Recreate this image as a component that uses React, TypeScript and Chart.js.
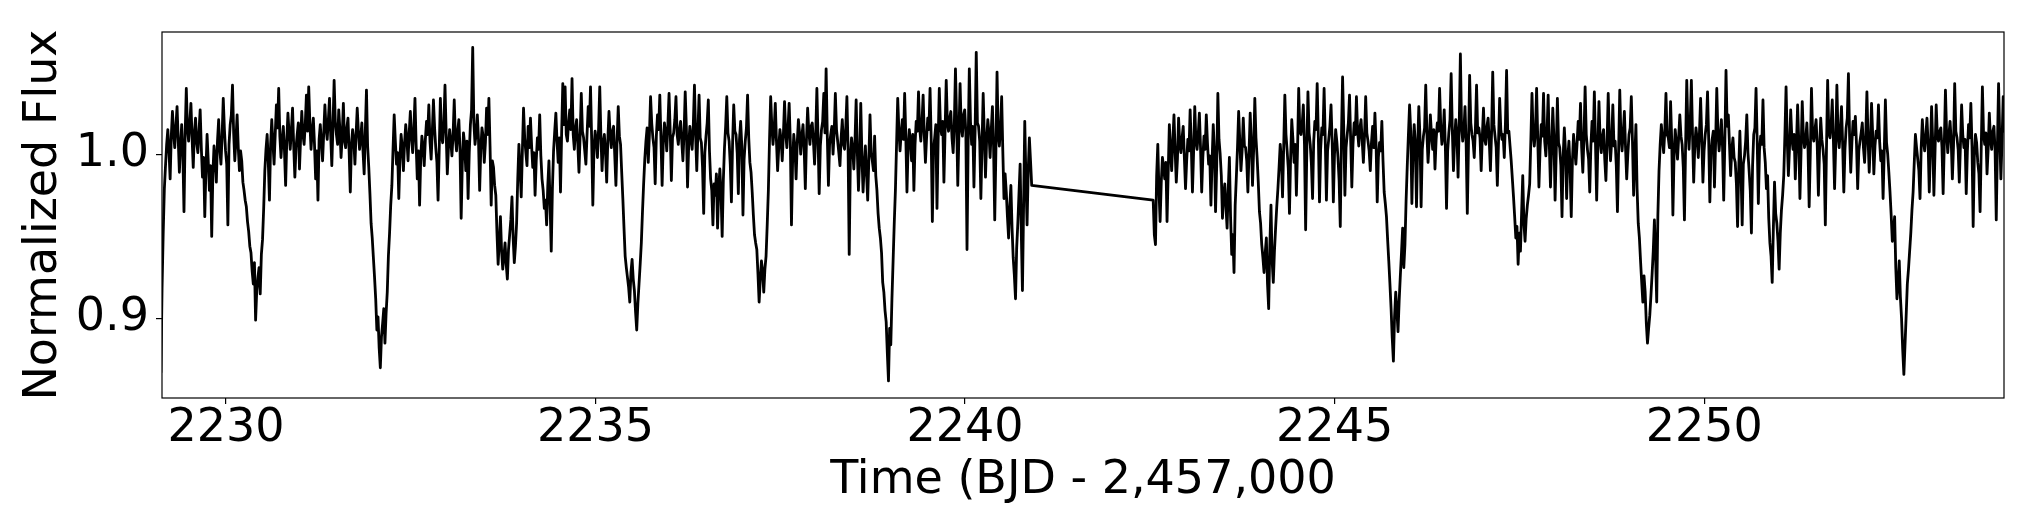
import React, { useEffect, useRef } from "react";
import { Chart, registerables } from "chart.js";

Chart.register(...registerables);

// Time grid: regular cadence per observing segment (BJD - 2,457,000)
const segment1Start = 2229.12;
const segment2Start = 2242.545;
const cadenceDays = 1 / 64;

// Normalized flux, segment 1 (before the data gap)
const segment1Flux = [
  0.867, 0.918, 0.952, 0.979, 0.993, 1.006, 1.015, 1.002, 0.985, 1.011, 1.026, 1.013, 1.004, 1.017, 1.029, 1.009, 0.989, 1.005, 1.018, 1.001, 0.965, 1.012, 1.040, 1.016, 1.008, 1.019, 1.031, 1.010, 0.992, 1.013, 1.022, 1.007,
  1.001, 1.014, 1.027, 1.004, 0.986, 0.998, 0.962, 0.991, 1.012, 0.996, 0.978, 0.993, 0.950, 0.988, 1.005, 0.997, 0.983, 1.008, 1.021, 1.003, 0.994, 1.011, 1.034, 1.015, 1.002, 0.994, 0.957, 1.006, 1.018, 1.024, 1.042, 1.013,
  0.996, 1.009, 1.024, 1.004, 0.990, 1.002, 0.996, 0.983, 0.978, 0.972, 0.968, 0.959, 0.953, 0.944, 0.940, 0.929, 0.921, 0.934, 0.899, 0.917, 0.925, 0.931, 0.915, 0.939, 0.948, 0.967, 0.990, 1.003, 1.012, 0.995, 0.972, 1.006,
  1.021, 1.007, 0.994, 1.012, 1.030, 1.016, 1.040, 1.011, 0.998, 1.009, 1.017, 1.002, 0.981, 1.008, 1.025, 1.013, 1.003, 1.015, 1.028, 1.005, 0.986, 1.004, 1.012, 1.019, 0.991, 1.010, 1.026, 1.012, 1.006, 1.018, 1.036, 1.014,
  1.041, 1.019, 1.003, 1.014, 1.022, 1.006, 0.985, 1.002, 0.972, 1.009, 1.018, 1.007, 0.996, 1.013, 1.030, 1.016, 1.009, 1.021, 1.034, 1.012, 0.993, 1.017, 1.045, 1.020, 1.012, 1.006, 1.027, 1.015, 0.998, 1.011, 1.031, 1.008,
  1.004, 1.016, 1.022, 1.001, 0.977, 1.006, 1.015, 1.009, 0.994, 1.012, 1.028, 1.014, 1.003, 1.010, 1.019, 1.002, 0.988, 1.014, 1.039, 1.005, 0.992, 0.976, 0.958, 0.949, 0.937, 0.925, 0.912, 0.893, 0.901, 0.882, 0.870, 0.889,
  0.897, 0.906, 0.885, 0.903, 0.916, 0.938, 0.952, 0.969, 0.981, 1.003, 1.024, 1.008, 0.994, 1.001, 0.973, 0.998, 1.012, 1.004, 0.990, 1.007, 1.018, 1.009, 0.996, 1.013, 1.026, 1.010, 1.001, 1.015, 1.034, 1.006, 0.985, 1.002,
  0.969, 0.998, 1.011, 1.004, 0.993, 1.009, 1.020, 1.012, 1.030, 1.008, 0.997, 1.014, 1.033, 1.016, 1.004, 0.995, 0.972, 1.003, 1.034, 1.011, 1.007, 1.018, 1.042, 1.013, 0.988, 1.004, 1.015, 1.008, 0.999, 1.012, 1.033, 1.010,
  1.002, 1.014, 1.021, 1.003, 0.961, 0.994, 1.013, 1.006, 0.990, 1.008, 0.973, 1.001, 1.018, 1.027, 1.065, 1.019, 1.006, 1.013, 1.024, 1.009, 0.978, 1.003, 1.016, 1.011, 0.995, 1.007, 1.028, 1.012, 1.034, 1.005, 0.969, 0.996,
  0.992, 0.981, 0.975, 0.952, 0.933, 0.947, 0.962, 0.941, 0.930, 0.938, 0.946, 0.933, 0.924, 0.942, 0.951, 0.960, 0.974, 0.949, 0.934, 0.944, 0.958, 0.985, 1.006, 0.991, 0.974, 1.002, 1.028, 1.010, 1.001, 0.993, 1.017, 1.004,
  1.022, 1.005, 0.992, 1.001, 0.975, 0.996, 1.010, 1.003, 1.024, 0.999, 0.985, 0.978, 0.967, 0.972, 0.957, 0.981, 0.996, 0.969, 0.941, 0.979, 1.002, 1.014, 1.025, 1.008, 0.995, 1.010, 0.977, 1.013, 1.043, 1.018, 1.041, 1.012,
  1.008, 1.019, 1.027, 1.015, 1.046, 1.012, 1.003, 1.016, 1.021, 1.006, 0.989, 1.011, 1.037, 1.014, 1.010, 1.002, 0.994, 1.012, 1.029, 1.017, 1.041, 1.009, 0.969, 1.004, 1.014, 1.008, 0.998, 1.016, 1.041, 1.011, 0.990, 1.007,
  1.012, 1.001, 0.983, 1.009, 1.026, 1.012, 1.004, 1.014, 1.017, 0.999, 0.981, 1.008, 1.029, 1.011, 1.006, 0.989, 0.973, 0.955, 0.938, 0.931, 0.925, 0.919, 0.910, 0.928, 0.936, 0.924, 0.917, 0.904, 0.893, 0.909, 0.921, 0.933,
  0.946, 0.965, 0.982, 0.997, 1.008, 1.016, 0.995, 1.012, 1.035, 1.019, 1.010, 1.004, 0.982, 1.011, 1.024, 1.015, 1.036, 1.009, 0.981, 1.007, 1.019, 1.013, 1.002, 1.018, 1.037, 1.014, 0.984, 1.010, 1.013, 1.021, 1.035, 1.012,
  1.006, 1.015, 1.020, 1.008, 0.996, 1.013, 1.038, 1.016, 0.980, 1.005, 1.017, 1.009, 1.003, 1.018, 1.042, 1.012, 0.990, 1.014, 1.036, 1.010, 1.007, 0.992, 0.964, 1.001, 1.011, 1.019, 1.033, 1.002, 0.985, 0.978, 0.957, 0.982,
  0.975, 0.988, 0.955, 0.979, 0.991, 0.976, 0.950, 0.984, 1.004, 1.017, 1.035, 1.013, 1.008, 0.994, 0.971, 1.006, 1.030, 1.014, 1.012, 1.001, 0.976, 1.009, 1.020, 1.005, 0.963, 0.997, 1.008, 1.016, 1.036, 1.010, 0.995, 0.989,
  0.977, 0.963, 0.951, 0.946, 0.942, 0.927, 0.910, 0.924, 0.935, 0.929, 0.916, 0.930, 0.938, 0.957, 0.978, 1.009, 1.035, 1.017, 1.006, 1.015, 1.031, 1.008, 0.990, 1.004, 1.015, 1.009, 0.996, 1.012, 1.032, 1.013, 1.004, 1.016,
  1.031, 1.008, 0.957, 0.996, 1.012, 1.004, 0.985, 1.007, 1.021, 1.013, 1.000, 1.011, 1.018, 1.003, 0.979, 1.009, 1.028, 1.014, 1.006, 1.017, 1.019, 1.008, 0.994, 1.012, 1.040, 1.010, 0.976, 1.005, 1.015, 1.020, 1.037, 1.013,
  1.052, 1.012, 0.981, 1.006, 1.012, 1.017, 1.000, 1.014, 1.037, 1.015, 1.008, 1.001, 0.993, 1.010, 1.021, 1.006, 1.003, 1.016, 1.035, 1.004, 0.939, 0.997, 1.010, 1.003, 0.991, 1.008, 1.033, 1.002, 0.978, 0.996, 1.031, 0.999,
  0.977, 0.993, 1.005, 0.988, 0.972, 0.997, 1.024, 1.001, 0.996, 0.990, 1.011, 0.987, 0.978, 0.964, 0.955, 0.949, 0.940, 0.922, 0.916, 0.905, 0.898, 0.879, 0.862, 0.894, 0.884, 0.912, 0.935, 0.958, 0.978, 1.006, 1.034, 1.015,
  1.002, 1.013, 1.021, 1.009, 1.037, 1.011, 0.977, 1.004, 1.015, 1.008, 0.996, 1.012, 0.978, 1.006, 1.020, 1.014, 1.038, 1.016, 1.008, 1.019, 1.036, 1.012, 0.995, 1.010, 1.022, 1.015, 1.040, 1.009, 0.959, 1.003, 1.010, 1.018,
  0.967, 1.008, 1.040, 1.017, 1.012, 1.020, 0.983, 1.014, 1.045, 1.019, 1.014, 1.022, 1.026, 1.010, 1.001, 1.018, 1.052, 1.021, 0.981, 1.012, 1.043, 1.016, 1.011, 1.024, 1.027, 1.013, 0.942, 1.007, 1.052, 1.020, 1.006, 1.017,
  0.980, 1.014, 1.062, 1.019, 1.017, 1.008, 0.973, 1.006, 1.037, 1.011, 0.986, 1.009, 1.021, 1.013, 0.998, 1.015, 1.029, 1.004, 0.960, 1.001, 1.050, 1.012, 1.005, 1.016, 1.035, 1.002, 0.973, 0.988, 0.977, 0.962, 0.949, 0.968,
  0.981, 0.955, 0.937, 0.926, 0.912, 0.943, 0.958, 0.976, 0.994, 0.952, 0.917, 0.969, 1.020, 0.985, 0.957, 0.990, 1.010, 0.996, 0.981,
];

// Normalized flux, segment 2 (after the data gap)
const segment2Flux = [
  0.972, 0.951, 0.945, 0.987, 1.006, 0.978, 0.959, 0.983, 0.998, 0.992, 0.985, 0.995, 0.959, 0.989, 1.018, 1.003, 0.990, 1.008, 1.024, 1.002, 0.983, 0.997, 1.022, 1.006, 1.001, 1.010, 1.017, 0.998, 0.979, 0.996, 1.009, 1.002,
  1.027, 1.005, 0.977, 1.001, 1.029, 1.008, 1.003, 1.012, 1.025, 1.004, 0.977, 0.998, 1.011, 1.003, 1.024, 1.007, 0.994, 0.999, 0.969, 0.996, 1.018, 1.002, 0.965, 0.993, 1.037, 1.009, 1.000, 0.987, 0.961, 0.975, 0.982, 0.968,
  0.955, 0.979, 0.998, 0.962, 0.939, 0.951, 0.928, 0.969, 0.986, 1.004, 1.026, 1.008, 0.990, 1.002, 1.022, 1.005, 1.004, 0.996, 0.977, 1.001, 1.025, 1.007, 0.981, 1.003, 1.034, 1.010, 0.998, 0.983, 0.965, 0.958, 0.945, 0.937,
  0.928, 0.940, 0.949, 0.921, 0.906, 0.944, 0.969, 0.935, 0.922, 0.941, 0.955, 0.968, 0.979, 0.992, 1.006, 0.997, 0.974, 1.004, 1.036, 1.012, 1.002, 0.991, 0.964, 0.998, 1.021, 1.009, 0.995, 1.006, 0.975, 1.003, 1.040, 1.014,
  1.012, 1.018, 1.030, 1.006, 0.954, 1.001, 1.038, 1.013, 1.006, 0.994, 0.973, 1.008, 1.020, 1.015, 1.043, 1.011, 0.971, 1.003, 1.016, 1.012, 1.040, 1.009, 0.972, 1.002, 1.009, 1.017, 1.030, 1.007, 0.971, 1.000, 1.015, 1.008,
  0.998, 0.984, 0.956, 1.010, 1.047, 1.016, 0.975, 1.004, 1.012, 1.019, 1.036, 1.009, 0.980, 1.006, 1.019, 1.012, 1.035, 1.014, 1.005, 1.016, 1.021, 1.008, 0.995, 1.011, 1.035, 1.013, 1.008, 1.002, 0.990, 1.007, 1.017, 1.004,
  1.025, 1.006, 0.971, 0.998, 1.007, 1.002, 1.020, 0.996, 0.977, 0.970, 0.962, 0.948, 0.935, 0.921, 0.906, 0.888, 0.874, 0.901, 0.916, 0.905, 0.892, 0.911, 0.926, 0.940, 0.955, 0.931, 0.945, 0.972, 0.993, 1.012, 1.030, 1.014,
  0.970, 1.002, 1.018, 1.006, 0.968, 1.004, 1.029, 1.011, 0.968, 1.003, 1.011, 1.016, 1.042, 1.013, 0.995, 1.008, 1.024, 1.012, 1.003, 1.015, 0.991, 1.009, 1.019, 1.014, 1.040, 1.017, 1.006, 1.011, 1.027, 1.004, 0.967, 1.002,
  1.013, 1.021, 1.049, 1.015, 0.990, 1.009, 1.021, 1.012, 0.986, 1.018, 1.061, 1.017, 1.008, 1.014, 1.029, 1.006, 0.964, 1.005, 1.048, 1.019, 1.012, 1.008, 0.998, 1.016, 1.042, 1.013, 1.016, 1.010, 0.990, 1.011, 1.028, 1.009,
  1.006, 1.017, 1.022, 1.008, 0.990, 1.013, 1.050, 1.018, 1.011, 1.004, 0.981, 1.007, 1.034, 1.015, 1.009, 1.012, 0.998, 1.019, 1.051, 1.013, 1.014, 1.005, 0.996, 0.985, 0.974, 0.962, 0.949, 0.956, 0.933, 0.952, 0.941, 0.964,
  0.987, 0.958, 0.947, 0.961, 0.969, 0.975, 0.982, 1.008, 1.037, 1.012, 1.005, 1.014, 1.040, 1.009, 0.980, 1.003, 1.018, 1.011, 1.037, 1.008, 0.999, 1.013, 1.036, 1.006, 0.980, 1.004, 1.028, 1.010, 0.972, 1.001, 1.034, 1.007,
  1.004, 0.993, 0.962, 0.999, 1.016, 1.002, 0.973, 0.998, 1.008, 0.991, 0.962, 0.996, 1.012, 1.003, 0.994, 1.006, 1.020, 1.009, 1.031, 1.004, 0.989, 1.010, 1.041, 1.012, 1.003, 0.997, 0.977, 1.005, 1.020, 1.008, 1.038, 1.006,
  0.972, 1.004, 1.032, 1.009, 1.001, 1.011, 1.015, 0.997, 0.984, 1.007, 1.037, 1.010, 0.996, 1.008, 1.030, 1.005, 1.008, 0.993, 0.965, 1.002, 1.039, 1.011, 1.002, 1.013, 1.026, 1.004, 0.985, 1.000, 1.012, 1.016, 1.035, 1.008,
  0.975, 0.998, 1.018, 0.979, 0.958, 0.949, 0.935, 0.922, 0.910, 0.926, 0.916, 0.897, 0.885, 0.894, 0.902, 0.914, 0.927, 0.941, 0.960, 0.938, 0.910, 0.963, 0.990, 1.006, 1.018, 1.009, 1.001, 1.014, 1.037, 1.012, 1.010, 1.004,
  1.032, 1.008, 0.963, 0.999, 1.015, 1.007, 0.997, 1.010, 1.024, 1.011, 1.006, 0.992, 0.960, 1.005, 1.045, 1.016, 1.003, 1.019, 1.045, 1.012, 0.983, 1.006, 1.016, 1.009, 0.998, 1.013, 1.034, 1.010, 0.983, 1.002, 1.012, 1.018,
  1.038, 1.009, 0.971, 1.001, 1.009, 1.014, 0.980, 1.007, 1.040, 1.013, 1.002, 1.011, 1.021, 1.004, 0.972, 1.008, 1.051, 1.017, 1.024, 1.006, 0.987, 1.003, 1.010, 0.998, 0.995, 0.982, 0.956, 0.991, 1.014, 0.989, 0.957, 0.994,
  0.999, 1.008, 1.024, 1.001, 0.990, 0.978, 0.952, 0.993, 1.012, 1.016, 1.040, 1.008, 0.970, 1.002, 1.011, 1.006, 1.033, 1.004, 0.995, 0.979, 0.987, 0.961, 0.946, 0.938, 0.922, 0.955, 0.983, 0.964, 0.958, 0.947, 0.930, 0.952,
  0.966, 0.975, 0.987, 1.012, 1.041, 1.009, 0.987, 1.004, 1.027, 1.010, 1.003, 1.012, 0.985, 1.006, 1.030, 1.008, 0.973, 1.002, 1.032, 1.011, 1.004, 1.009, 1.019, 1.003, 0.968, 1.001, 1.040, 1.012, 1.008, 1.015, 1.021, 1.005,
  0.975, 1.003, 1.022, 1.009, 1.003, 0.994, 0.957, 1.004, 1.045, 1.013, 1.010, 1.018, 1.033, 1.008, 0.979, 1.006, 1.042, 1.012, 1.004, 1.015, 1.029, 1.006, 0.977, 1.003, 1.016, 1.022, 1.049, 1.011, 0.989, 1.007, 1.020, 1.012,
  1.023, 1.006, 0.979, 1.002, 1.008, 1.013, 1.019, 1.004, 0.995, 1.011, 1.038, 1.009, 0.989, 1.007, 1.031, 1.012, 0.988, 1.005, 1.014, 1.010, 1.030, 1.008, 0.996, 1.002, 0.973, 1.001, 1.033, 1.007, 1.000, 0.989, 0.977, 0.963,
  0.947, 0.954, 0.962, 0.931, 0.912, 0.920, 0.935, 0.913, 0.900, 0.881, 0.866, 0.884, 0.902, 0.921, 0.930, 0.941, 0.952, 0.966, 0.977, 0.995, 1.012, 1.004, 0.997, 0.990, 0.973, 1.004, 1.021, 1.008, 1.002, 1.011, 1.022, 1.006,
  0.977, 1.003, 1.029, 1.007, 0.975, 1.002, 1.030, 1.011, 1.008, 1.014, 1.016, 1.004, 0.976, 1.006, 1.039, 1.013, 1.001, 1.012, 1.020, 1.008, 0.985, 1.005, 1.043, 1.014, 1.010, 1.003, 0.983, 1.006, 1.030, 1.012, 1.004, 1.009,
  0.976, 1.002, 1.018, 1.010, 1.031, 1.005, 0.956, 0.998, 1.012, 1.007, 0.995, 0.988, 0.965, 1.004, 1.041, 1.012, 1.006, 1.013, 0.988, 1.003, 1.025, 1.009, 1.003, 1.014, 1.017, 1.002, 0.960, 1.005, 1.043, 1.011, 0.985, 1.008,
  1.035, 1.013, 1.006,
];

const xTickValues = [2230, 2235, 2240, 2245, 2250];
const yTickValues = [0.9, 1.0];
const xLimits = [2229.135, 2254.056];
const yLimits = [0.8516, 1.0744];
const xTitle = "Time (BJD - 2,457,000";
const yTitle = "Normalized Flux";

const FONT = "'DejaVu Sans', 'Liberation Sans', sans-serif";

const framePlugin = {
  id: "axesFrame",
  afterDatasetsDraw(chart: any) {
    const { ctx, chartArea: a } = chart;
    ctx.save();
    ctx.strokeStyle = "#000";
    ctx.lineWidth = 1.2;
    ctx.strokeRect(a.left, a.top, a.right - a.left, a.bottom - a.top);
    ctx.restore();
  },
};

export default function App() {
  const canvasRef = useRef<HTMLCanvasElement | null>(null);

  useEffect(() => {
    const canvas = canvasRef.current;
    if (!canvas) return;

    const points = [
      ...segment1Flux.map((f, i) => ({ x: segment1Start + i * cadenceDays, y: f })),
      ...segment2Flux.map((f, i) => ({ x: segment2Start + i * cadenceDays, y: f })),
    ];

    const chart = new Chart(canvas, {
      type: "line",
      data: {
        datasets: [
          {
            data: points,
            borderColor: "#000",
            borderWidth: 2.8,
            pointRadius: 0,
            tension: 0,
            fill: false,
            clip: 0,
            borderJoinStyle: "round",
          } as any,
        ],
      },
      plugins: [framePlugin],
      options: {
        animation: false,
        responsive: false,
        devicePixelRatio: 1,
        events: [],
        layout: { padding: { left: 0, right: 24, top: 32, bottom: 0 } },
        plugins: { legend: { display: false }, tooltip: { enabled: false } },
        scales: {
          x: {
            type: "linear",
            min: xLimits[0],
            max: xLimits[1],
            afterBuildTicks: (s: any) => {
              s.ticks = xTickValues.map((v) => ({ value: v }));
            },
            afterFit: (s: any) => {
              s.height = 124;
            },
            ticks: {
              autoSkip: false,
              maxRotation: 0,
              padding: 2,
              color: "#000",
              font: { family: FONT, size: 46, lineHeight: 1 },
              callback: (v: any) => String(v),
            },
            grid: {
              display: true,
              drawOnChartArea: false,
              drawTicks: true,
              tickLength: 6,
              color: "#000",
              lineWidth: 1.2,
            },
            border: { display: false },
            title: {
              display: true,
              text: xTitle,
              color: "#000",
              font: { family: FONT, size: 46, lineHeight: 1 },
              padding: { top: 0, bottom: 18 },
            },
          },
          y: {
            type: "linear",
            min: yLimits[0],
            max: yLimits[1],
            afterBuildTicks: (s: any) => {
              s.ticks = yTickValues.map((v) => ({ value: v }));
            },
            afterFit: (s: any) => {
              s.width = 162;
            },
            ticks: {
              autoSkip: false,
              padding: 7,
              color: "#000",
              font: { family: FONT, size: 46, lineHeight: 1 },
              callback: (v: any) => Number(v).toFixed(1),
            },
            grid: {
              display: true,
              drawOnChartArea: false,
              drawTicks: true,
              tickLength: 6,
              color: "#000",
              lineWidth: 1.2,
            },
            border: { display: false },
            title: {
              display: true,
              text: yTitle,
              color: "#000",
              font: { family: FONT, size: 46, lineHeight: 1 },
              padding: { top: 21, bottom: 0 },
            },
          },
        },
      } as any,
    });

    return () => chart.destroy();
  }, []);

  return (
    <div style={{ position: "fixed", left: 0, top: 0, width: 2028, height: 522, background: "#fff" }}>
      <canvas ref={canvasRef} width={2028} height={522} style={{ display: "block", width: 2028, height: 522 }} />
    </div>
  );
}
